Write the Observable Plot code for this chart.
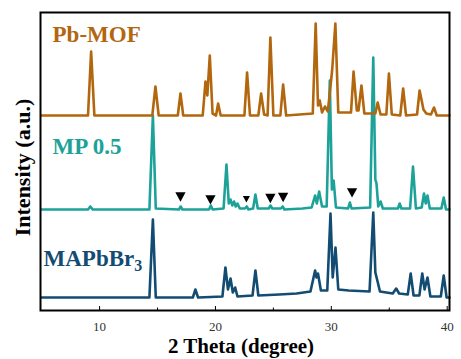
<!DOCTYPE html>
<html>
<head>
<meta charset="utf-8">
<script src="https://cdn.jsdelivr.net/npm/d3@7"></script>
<script src="https://cdn.jsdelivr.net/npm/@observablehq/plot@0.6"></script>
<style>
  html, body { margin: 0; padding: 0; background: #fff; }
  #chart svg { display: block; }
</style>
</head>
<body>
<div id="chart"></div>
<script>
// ---------- data (2θ in degrees, intensity in a.u. relative to each trace's baseline) ----------
const pbmofTheta = [5, 9.0, 9.27, 9.55, 14.55, 14.82, 15.1, 16.75, 16.98, 17.22, 18.9, 19.14, 19.3, 19.51, 19.75, 20.05, 20.23, 20.45,
  22.5, 22.73, 22.98, 23.7, 23.94, 24.2, 24.5, 24.74, 25.0, 25.6, 25.84, 26.1, 28.4, 28.65, 28.85, 29.0, 29.2, 29.45, 29.7, 30.07, 30.35, 30.6,
  31.7, 31.92, 32.2, 32.35, 32.6, 32.85, 33.8, 34.0, 34.25, 34.75, 34.97, 35.22, 35.95, 36.2, 36.45, 37.4, 37.62, 37.85, 37.95, 38.2, 38.6, 38.86, 39.1, 40.2];
const pbmofI = [0, 0, 64, 0, 0, 29, 0, 0, 22, 0, 0, 34, 20, 60, 2, 0, 12, 0,
  0, 43, 0, 0, 22, 1, 0, 78, 0, 0, 31, 0, 2, 92, 10, 15, 3, 9, 4, 45, 92, 3,
  3, 44, 5, 5, 30, 2, 2, 13, 1, 1, 42, 1, 0, 27, 0, 1, 25, 12, 6, 2, 1, 8, 0, 0];

const mpTheta = [5, 9.0, 9.2, 9.4, 14.3, 14.6, 14.85, 16.85, 17.0, 17.15, 19.45, 19.6, 19.75, 20.7, 20.95, 21.15, 21.3, 21.45, 21.6, 21.75, 21.9, 22.1,
  22.55, 22.7, 22.85, 23.25, 23.45, 23.65, 24.6, 24.75, 24.9, 25.65, 25.8, 25.95, 27.5, 28.3, 28.6, 28.75, 28.95, 29.2, 29.6, 29.87, 30.05, 30.2, 30.4,
  31.45, 31.6, 31.75, 33.35, 33.62, 33.8, 33.9, 34.05, 34.25, 34.45, 35.75, 35.9, 36.05, 36.8, 37.05, 37.3, 37.8, 38.0, 38.15, 38.3, 38.5, 39.5, 39.7, 39.9, 40.2];
const mpI = [0, 0, 3, 0, 0, 94, 1, 0, 3, 0, 0, 4, 0, 1, 45, 6, 10, 4, 8, 3, 6, 1,
  1, 3, 0, 1, 15, 1, 1, 4, 1, 1, 3, 0, 1, 2, 14, 6, 18, 3, 3, 129, 20, 29, 2,
  1, 7, 1, 2, 152, 30, 26, 3, 8, 1, 1, 6, 1, 1, 43, 1, 2, 16, 6, 14, 1, 1, 12, 0, 0];

const mapTheta = [5, 14.3, 14.6, 14.85, 18.05, 18.27, 18.5, 20.6, 20.86, 21.08, 21.3, 21.5, 21.7, 21.9, 23.2, 23.45, 23.7, 25.5, 27.0, 28.2,
  28.6, 28.72, 28.85, 29.1, 29.65, 29.93, 30.12, 30.36, 30.6, 31.5, 33.3, 33.62, 33.8, 33.95, 34.2, 35.3, 35.6, 35.85, 36.6, 36.85, 37.1,
  37.6, 37.85, 38.05, 38.3, 38.55, 39.45, 39.7, 39.95, 40.2];
const mapI = [0, 0, 78, 0, 0, 8, 0, 1, 30, 8, 19, 5, 10, 1, 2, 27, 2, 3, 4, 6,
  27, 20, 24, 7, 7, 84, 20, 50, 8, 7, 6, 85, 25, 18, 6, 4, 9, 4, 3, 24, 2,
  2, 24, 8, 20, 1, 1, 22, 0, 0];

const seriesNames = ["MAPbBr3", "MP 0.5", "Pb-MOF"];
const seriesOffsets = [13, 101, 195];

// ▼ markers on the MP 0.5 trace
const markerTheta = [16.98, 19.57, 24.74, 25.84, 31.79];
const markerI = [12.5, 9.7, 11, 12, 16.7];
const smallMarkerTheta = [22.67];
const smallMarkerI = [10.3];

const labelNames = ["Pb-MOF", "MP 0.5", "MAPbBr3"];
const labelTheta = [5.94, 5.94, 5.16];
const labelY = [268.3, 156.7, 45];

const xTicks = [10, 20, 30, 40];
const xMinorTicks = [15, 25, 35];

// ---------- styling ----------
const colors = {"Pb-MOF": "#B2660E", "MP 0.5": "#1CA299", "MAPbBr3": "#134C72"};
const serif = "'Liberation Serif', 'Times New Roman', serif";

const traces = [
  {name: "MAPbBr3", theta: mapTheta, I: mapI},
  {name: "MP 0.5", theta: mpTheta, I: mpI},
  {name: "Pb-MOF", theta: pbmofTheta, I: pbmofI}
].map(s => {
  const off = seriesOffsets[seriesNames.indexOf(s.name)];
  return {name: s.name, rows: s.theta.map((t, i) => ({theta: t, y: s.I[i] + off}))};
});

const mpOff = seriesOffsets[1];
const markers = markerTheta.map((t, i) => ({theta: t, y: markerI[i] + mpOff}));
const smallMarkers = smallMarkerTheta.map((t, i) => ({theta: t, y: smallMarkerI[i] + mpOff}));
const labels = labelNames.map((n, i) => ({name: n, theta: labelTheta[i], y: labelY[i]}));

const triDown = {
  draw(ctx, size) {
    const s = Math.sqrt(size);
    ctx.moveTo(-s / 2, -s * 0.45);
    ctx.lineTo(s / 2, -s * 0.45);
    ctx.lineTo(0, s * 0.45);
    ctx.closePath();
  }
};

const chart = Plot.plot({
  width: 461,
  height: 359,
  marginLeft: 40,
  marginRight: 12,
  marginTop: 12,
  marginBottom: 49,
  style: {fontFamily: serif, background: "#fff", overflow: "visible"},
  x: {domain: [4.9, 40.2]},
  y: {domain: [0, 298], axis: null},
  marks: [
    ...traces.map(tr => Plot.line(tr.rows, {x: "theta", y: "y", stroke: colors[tr.name], strokeWidth: 2.6, strokeLinejoin: "round"})),
    Plot.dot(markers, {x: "theta", y: "y", symbol: triDown, r: 5.8, fill: "black", stroke: "none"}),
    Plot.dot(smallMarkers, {x: "theta", y: "y", symbol: triDown, r: 4, fill: "black", stroke: "none"}),
    Plot.text(labels, {x: "theta", y: "y", text: "name", textAnchor: "start", lineAnchor: "bottom",
      fill: d => colors[d.name], fontSize: 23, fontWeight: "bold", fontFamily: serif}),
    Plot.ruleX(xTicks, {stroke: "black", strokeWidth: 1, insetTop: 294}),
    Plot.ruleX(xMinorTicks, {stroke: "black", strokeWidth: 1, insetTop: 295.5}),
    Plot.axisX({ticks: xTicks, tickSize: 0, tickPadding: 11, fontSize: 13, label: null, color: "#333", fontFamily: serif}),
    Plot.frame({stroke: "black", strokeWidth: 2}),
    Plot.text(["Intensity (a.u.)"], {frameAnchor: "left", rotate: -90, dx: -18, dy: 6, fontSize: 22, fontWeight: "bold",
      fill: "black", textAnchor: "middle", lineAnchor: "middle", fontFamily: serif}),
    Plot.text(["2 Theta (degree)"], {frameAnchor: "bottom", dx: -4, dy: 42, fontSize: 21, fontWeight: "bold",
      fill: "black", textAnchor: "middle", lineAnchor: "bottom", fontFamily: serif})
  ]
});

// subscript the 3 in MAPbBr3
chart.querySelectorAll("text").forEach(t => {
  if (t.textContent === "MAPbBr3") {
    const ns = "http://www.w3.org/2000/svg";
    t.textContent = "MAPbBr";
    const sub = document.createElementNS(ns, "tspan");
    sub.setAttribute("dy", "5");
    sub.setAttribute("font-size", "16");
    sub.textContent = "3";
    t.appendChild(sub);
  }
});

document.getElementById("chart").appendChild(chart);
</script>
</body>
</html>
